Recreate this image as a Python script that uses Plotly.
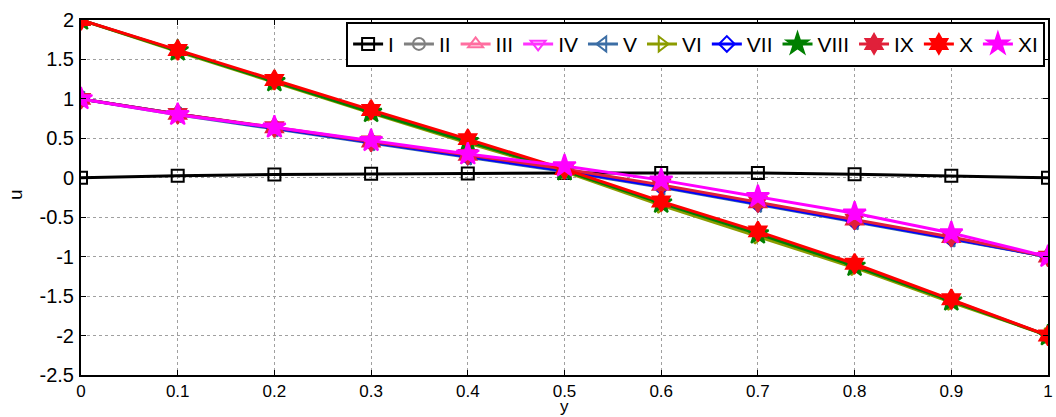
import plotly.graph_objects as go

y_vals = [0, 0.1, 0.2, 0.3, 0.4, 0.5, 0.6, 0.7, 0.8, 0.9, 1.0]

u_I = [0.0, 0.025, 0.04, 0.05, 0.055, 0.06, 0.06, 0.06, 0.045, 0.025, 0.0]
u_II = [1.0, 0.81, 0.63, 0.45, 0.27, 0.09, -0.11, -0.33, -0.55, -0.77, -1.0]
u_III = [1.0, 0.81, 0.63, 0.45, 0.28, 0.10, -0.10, -0.32, -0.54, -0.76, -1.0]
u_IV = [2.0, 1.61, 1.22, 0.84, 0.46, 0.09, -0.32, -0.71, -1.11, -1.55, -2.0]
u_V = [1.0, 0.80, 0.62, 0.44, 0.26, 0.08, -0.12, -0.34, -0.56, -0.78, -1.0]
u_VI = [2.0, 1.60, 1.21, 0.82, 0.44, 0.08, -0.35, -0.74, -1.14, -1.58, -2.0]
u_VII = [1.0, 0.81, 0.63, 0.45, 0.27, 0.09, -0.11, -0.33, -0.55, -0.77, -1.0]
u_VIII = [2.0, 1.61, 1.22, 0.83, 0.46, 0.09, -0.32, -0.71, -1.12, -1.56, -2.0]
u_IX = [1.0, 0.81, 0.64, 0.46, 0.29, 0.11, -0.09, -0.31, -0.53, -0.75, -1.0]
u_X = [2.0, 1.62, 1.24, 0.86, 0.49, 0.11, -0.30, -0.68, -1.09, -1.54, -2.0]
u_XI = [1.0, 0.80, 0.64, 0.47, 0.30, 0.15, -0.03, -0.24, -0.45, -0.70, -1.0]

names = ["I", "II", "III", "IV", "V", "VI", "VII", "VIII", "IX", "X", "XI"]
series = [u_I, u_II, u_III, u_IV, u_V, u_VI, u_VII, u_VIII, u_IX, u_X, u_XI]
colors = ["#000000", "#808080", "#FF6EA0", "#FF33FF", "#3C6EA5", "#8C9C00",
          "#0000FF", "#007F00", "#E0203A", "#FF0000", "#FF00FF"]
symbols = ["square-open", "circle-open", "triangle-up-open", "triangle-down-open",
           "triangle-left-open", "triangle-right-open", "diamond-open",
           "star", "hexagram", "hexagram", "star"]
msizes = [12, 12, 13, 13, 13, 13, 12, 16, 15, 15, 17]

fig = go.Figure()
for n, s, c, sym, ms in zip(names, series, colors, symbols, msizes):
    fig.add_trace(go.Scatter(
        x=y_vals, y=s, name=n, mode="lines+markers",
        line=dict(color=c, width=3),
        marker=dict(symbol=sym, size=ms, color=c, line=dict(color=c, width=2)),
    ))

axis_common = dict(
    showline=True, linecolor="black", linewidth=2, mirror="ticks",
    ticks="inside", ticklen=5, tickcolor="black",
    showgrid=True, gridcolor="#a0a0a0", griddash="dot", gridwidth=1,
    zeroline=False, automargin=False,
)

fig.update_layout(
    width=1056, height=417,
    margin=dict(l=81, r=8, t=20, b=42),
    plot_bgcolor="white", paper_bgcolor="white",
    font=dict(family="Liberation Sans", size=19, color="black"),
    xaxis=dict(range=[0, 1], tickvals=[0, 0.1, 0.2, 0.3, 0.4, 0.5, 0.6, 0.7, 0.8, 0.9, 1],
               ticktext=["0", "0.1", "0.2", "0.3", "0.4", "0.5", "0.6", "0.7", "0.8", "0.9", "1"],
               tickfont=dict(family="Liberation Sans", size=17, color="black"),
               **axis_common),
    yaxis=dict(range=[-2.5, 2], tickvals=[-2.5, -2, -1.5, -1, -0.5, 0, 0.5, 1, 1.5, 2],
               ticktext=["-2.5", "-2", "-1.5", "-1", "-0.5", "0", "0.5", "1", "1.5", "2"],
               tickfont=dict(family="Liberation Sans", size=20, color="black"),
               ticklabelstandoff=1, **axis_common),
    legend=dict(orientation="h", x=0.997, xanchor="right", y=0.995, yanchor="top",
                bgcolor="white", bordercolor="black", borderwidth=2,
                font=dict(family="Liberation Sans", size=21),
                itemwidth=30, tracegroupgap=0),
    showlegend=True,
    annotations=[
        dict(text="y", xref="paper", yref="paper", x=0.5, y=0, xanchor="center",
             yanchor="middle", yshift=-31, showarrow=False,
             font=dict(family="Liberation Sans", size=17, color="black")),
        dict(text="u", xref="paper", yref="paper", x=0, y=0.507, xanchor="center",
             yanchor="middle", xshift=-66, textangle=-90, showarrow=False,
             font=dict(family="Liberation Sans", size=19, color="black")),
    ],
)

fig.write_html("out.html")
